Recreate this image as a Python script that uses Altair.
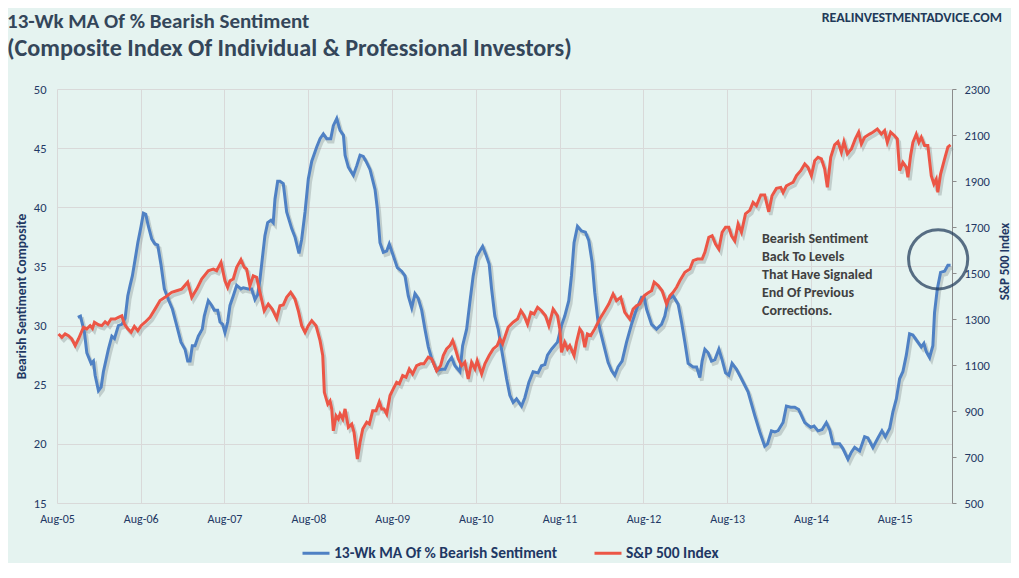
import altair as alt
import pandas as pd

# ---------------- data (decimal years) ----------------
bear_t = [2005.830, 2005.861, 2005.909, 2005.937, 2005.989, 2006.016, 2006.036, 2006.076, 2006.108, 2006.135,
          2006.195, 2006.236, 2006.267, 2006.314, 2006.355, 2006.394, 2006.426, 2006.454, 2006.481, 2006.514,
          2006.546, 2006.585, 2006.613, 2006.641, 2006.672, 2006.713, 2006.752, 2006.784, 2006.824, 2006.863,
          2006.911, 2006.959, 2007.011, 2007.062, 2007.110, 2007.142, 2007.170, 2007.197, 2007.229, 2007.269,
          2007.316, 2007.340, 2007.388, 2007.429, 2007.460, 2007.500, 2007.528, 2007.560, 2007.587, 2007.619,
          2007.647, 2007.686, 2007.727, 2007.778, 2007.806, 2007.865, 2007.906, 2007.945, 2007.977, 2008.005,
          2008.032, 2008.064, 2008.097, 2008.136, 2008.163, 2008.184, 2008.216, 2008.243, 2008.283, 2008.323,
          2008.383, 2008.422, 2008.470, 2008.502, 2008.542, 2008.581, 2008.622, 2008.681, 2008.721, 2008.760,
          2008.800, 2008.848, 2008.879, 2008.920, 2008.959, 2008.999, 2009.019, 2009.058, 2009.118, 2009.158,
          2009.198, 2009.237, 2009.269, 2009.317, 2009.377, 2009.404, 2009.436, 2009.476, 2009.516, 2009.547,
          2009.595, 2009.643, 2009.695, 2009.735, 2009.774, 2009.815, 2009.854, 2009.893, 2009.934, 2009.973,
          2010.013, 2010.053, 2010.113, 2010.173, 2010.212, 2010.251, 2010.292, 2010.331, 2010.391, 2010.423,
          2010.471, 2010.510, 2010.549, 2010.590, 2010.629, 2010.662, 2010.701, 2010.740, 2010.769, 2010.808,
          2010.848, 2010.900, 2010.948, 2010.987, 2011.027, 2011.067, 2011.127, 2011.166, 2011.214, 2011.265,
          2011.325, 2011.365, 2011.405, 2011.437, 2011.485, 2011.556, 2011.604, 2011.643, 2011.691, 2011.723,
          2011.754, 2011.795, 2011.843, 2011.890, 2011.930, 2011.969, 2012.001, 2012.041, 2012.100, 2012.160,
          2012.201, 2012.240, 2012.279, 2012.327, 2012.380, 2012.439, 2012.499, 2012.559, 2012.590, 2012.618,
          2012.678, 2012.737, 2012.797, 2012.836, 2012.876, 2012.935, 2012.995, 2013.035, 2013.075, 2013.114,
          2013.174, 2013.215, 2013.254, 2013.281, 2013.314, 2013.353, 2013.393, 2013.433, 2013.481, 2013.520,
          2013.561, 2013.600, 2013.639, 2013.692, 2013.751, 2013.830, 2013.910, 2013.970, 2014.029, 2014.062,
          2014.109, 2014.149, 2014.188, 2014.248, 2014.288, 2014.339, 2014.387, 2014.435, 2014.507, 2014.578,
          2014.618, 2014.665, 2014.713, 2014.765, 2014.805, 2014.844, 2014.924, 2014.963, 2015.023, 2015.064,
          2015.103, 2015.163, 2015.222, 2015.262, 2015.321, 2015.381, 2015.429, 2015.469, 2015.521, 2015.560,
          2015.601, 2015.640, 2015.679, 2015.720, 2015.759, 2015.799, 2015.839, 2015.899, 2015.930, 2015.958,
          2015.998, 2016.037, 2016.057, 2016.090, 2016.129, 2016.177, 2016.216, 2016.248]
bear_v = [30.7, 30.8, 29.4, 27.7, 26.8, 27.0, 25.8, 24.5, 24.8, 26.1,
          28.0, 29.1, 28.9, 30.0, 30.1, 30.6, 32.5, 33.4, 34.2, 35.6,
          37.0, 38.4, 39.5, 39.4, 38.4, 37.3, 36.9, 36.8, 35.1, 33.1,
          32.2, 31.4, 30.0, 28.6, 28.0, 27.0, 27.0, 28.3, 28.3, 29.1,
          29.7, 30.8, 32.1, 31.7, 31.3, 31.3, 30.3, 30.1, 29.4, 30.3,
          31.7, 32.5, 33.4, 33.1, 33.2, 33.1, 33.1, 32.2, 32.6, 33.9,
          35.6, 37.6, 38.7, 38.9, 38.7, 40.7, 42.2, 42.2, 42.0, 39.6,
          38.2, 37.5, 36.1, 37.3, 39.6, 42.4, 43.9, 45.1, 45.8, 46.2,
          45.8, 45.8, 46.9, 47.5, 46.5, 46.1, 44.4, 43.4, 42.7, 43.5,
          44.4, 44.3, 43.9, 43.2, 41.5, 39.9, 37.0, 36.2, 36.3, 36.9,
          35.9, 34.9, 34.6, 34.2, 32.5, 31.5, 32.7, 32.3, 31.3, 29.7,
          28.2, 27.2, 26.2, 26.3, 26.3, 26.9, 27.3, 26.6, 26.1, 28.3,
          29.7, 32.0, 34.2, 35.8, 36.3, 36.7, 36.0, 35.2, 33.1, 30.8,
          29.7, 27.5, 25.5, 24.1, 23.5, 23.8, 23.2, 23.9, 25.2, 26.1,
          26.0, 26.6, 26.7, 27.5, 28.0, 28.6, 30.0, 30.8, 32.1, 34.2,
          37.0, 38.4, 38.0, 37.9, 37.2, 35.4, 32.8, 30.3, 28.6, 26.9,
          26.2, 25.8, 26.5, 27.0, 28.6, 30.1, 31.4, 32.4, 32.4, 31.4,
          30.1, 29.7, 30.1, 30.8, 32.2, 32.5, 31.8, 30.3, 28.6, 26.8,
          26.5, 26.5, 25.6, 27.0, 28.0, 27.7, 27.0, 27.1, 28.0, 27.1,
          26.0, 25.8, 26.8, 26.3, 25.5, 24.4, 22.4, 21.0, 19.8, 20.0,
          21.1, 21.0, 21.1, 21.8, 23.2, 23.1, 23.1, 22.9, 21.8, 21.4,
          21.5, 21.1, 21.2, 21.8, 21.2, 20.0, 20.0, 19.6, 18.7, 19.3,
          19.7, 19.4, 20.6, 20.5, 19.7, 20.5, 21.1, 20.6, 21.3, 22.7,
          23.8, 25.5, 26.1, 27.5, 29.3, 29.2, 28.8, 28.2, 28.5, 27.8,
          27.3, 28.3, 31.1, 33.1, 34.5, 34.6, 35.1, 35.1]

spx_t = [2005.599, 2005.639, 2005.678, 2005.718, 2005.758, 2005.798, 2005.837, 2005.897, 2005.937, 2005.977,
         2006.004, 2006.028, 2006.076, 2006.116, 2006.156, 2006.188, 2006.227, 2006.275, 2006.314, 2006.355,
         2006.386, 2006.426, 2006.466, 2006.505, 2006.546, 2006.585, 2006.633, 2006.692, 2006.752, 2006.812,
         2006.871, 2006.951, 2007.011, 2007.071, 2007.142, 2007.190, 2007.250, 2007.309, 2007.388, 2007.448,
         2007.488, 2007.540, 2007.587, 2007.619, 2007.647, 2007.686, 2007.727, 2007.778, 2007.817, 2007.846,
         2007.885, 2007.925, 2007.965, 2008.005, 2008.056, 2008.104, 2008.151, 2008.204, 2008.243, 2008.283,
         2008.323, 2008.371, 2008.422, 2008.462, 2008.502, 2008.542, 2008.581, 2008.622, 2008.673, 2008.721,
         2008.753, 2008.772, 2008.813, 2008.840, 2008.860, 2008.879, 2008.912, 2008.939, 2008.959, 2008.991,
         2009.019, 2009.058, 2009.099, 2009.126, 2009.166, 2009.198, 2009.230, 2009.278, 2009.309, 2009.349,
         2009.389, 2009.428, 2009.457, 2009.484, 2009.516, 2009.556, 2009.595, 2009.635, 2009.667, 2009.707,
         2009.747, 2009.786, 2009.826, 2009.874, 2009.922, 2009.961, 2010.013, 2010.053, 2010.113, 2010.160,
         2010.192, 2010.232, 2010.272, 2010.304, 2010.331, 2010.371, 2010.411, 2010.450, 2010.490, 2010.530,
         2010.570, 2010.597, 2010.650, 2010.689, 2010.740, 2010.788, 2010.836, 2010.868, 2010.900, 2010.967,
         2011.027, 2011.079, 2011.119, 2011.158, 2011.198, 2011.238, 2011.277, 2011.318, 2011.365, 2011.413,
         2011.453, 2011.504, 2011.556, 2011.584, 2011.604, 2011.643, 2011.676, 2011.703, 2011.754, 2011.783,
         2011.822, 2011.850, 2011.882, 2011.914, 2011.954, 2012.001, 2012.061, 2012.121, 2012.168, 2012.220,
         2012.260, 2012.311, 2012.359, 2012.419, 2012.458, 2012.499, 2012.538, 2012.590, 2012.630, 2012.678,
         2012.709, 2012.757, 2012.804, 2012.857, 2012.896, 2012.935, 2012.976, 2013.015, 2013.075, 2013.135,
         2013.174, 2013.226, 2013.281, 2013.314, 2013.361, 2013.401, 2013.441, 2013.481, 2013.520, 2013.561,
         2013.600, 2013.632, 2013.671, 2013.711, 2013.751, 2013.799, 2013.850, 2013.890, 2013.930, 2013.982,
         2014.029, 2014.077, 2014.116, 2014.169, 2014.220, 2014.248, 2014.288, 2014.328, 2014.367, 2014.408,
         2014.459, 2014.507, 2014.546, 2014.586, 2014.626, 2014.665, 2014.706, 2014.745, 2014.777, 2014.817,
         2014.864, 2014.904, 2014.944, 2014.975, 2015.016, 2015.064, 2015.111, 2015.151, 2015.183, 2015.222,
         2015.282, 2015.321, 2015.374, 2015.422, 2015.461, 2015.493, 2015.533, 2015.580, 2015.612, 2015.640,
         2015.679, 2015.720, 2015.739, 2015.771, 2015.799, 2015.839, 2015.870, 2015.899, 2015.938, 2015.977,
         2016.018, 2016.049, 2016.077, 2016.096, 2016.129, 2016.177, 2016.216, 2016.248]
spx_v = [1235, 1220, 1235, 1227, 1213, 1184, 1213, 1264, 1257, 1271,
         1259, 1286, 1275, 1271, 1288, 1278, 1300, 1300, 1307, 1314,
         1278, 1257, 1242, 1268, 1249, 1271, 1286, 1307, 1343, 1380,
         1394, 1416, 1423, 1430, 1460, 1394, 1430, 1474, 1510, 1517,
         1510, 1546, 1466, 1438, 1466, 1474, 1525, 1558, 1525, 1517,
         1445, 1488, 1481, 1416, 1336, 1365, 1343, 1303, 1358, 1361,
         1394, 1416, 1387, 1336, 1271, 1242, 1271, 1293, 1271, 1206,
         1141, 981, 930, 944, 909, 814, 879, 865, 887, 865,
         909, 829, 843, 807, 691, 764, 822, 851, 843, 901,
         901, 940, 909, 909, 887, 967, 996, 1025, 1018, 1054,
         1047, 1083, 1061, 1097, 1105, 1105, 1134, 1127, 1075, 1097,
         1141, 1170, 1184, 1206, 1177, 1127, 1097, 1112, 1039, 1112,
         1083, 1119, 1061, 1105, 1141, 1170, 1184, 1213, 1192, 1264,
         1286, 1300, 1336, 1314, 1278, 1329, 1322, 1351, 1336, 1314,
         1271, 1343, 1314, 1257, 1155, 1199, 1170, 1184, 1141, 1199,
         1257, 1242, 1177, 1235, 1228, 1257, 1300, 1336, 1365, 1409,
         1380, 1394, 1329, 1300, 1343, 1358, 1365, 1401, 1412, 1423,
         1460, 1445, 1423, 1365, 1401, 1416, 1438, 1466, 1503, 1517,
         1554, 1561, 1561, 1590, 1655, 1662, 1626, 1604, 1677, 1699,
         1699, 1662, 1640, 1713, 1677, 1757, 1772, 1807, 1793, 1839,
         1839, 1766, 1836, 1868, 1872, 1850, 1879, 1887, 1894, 1923,
         1945, 1974, 1959, 1923, 1988, 2003, 1996, 1952, 1873, 2003,
         2057, 2071, 2025, 2071, 2018, 2039, 2083, 2112, 2061, 2090,
         2104, 2112, 2126, 2104, 2119, 2068, 2112, 2097, 2083, 1945,
         1981, 1959, 1916, 2010, 2068, 2104, 2068, 2090, 2054, 2054,
         1923, 1887, 1908, 1851, 1930, 1996, 2047, 2057]

series_names = ["13-Wk MA Of % Bearish Sentiment", "S&P 500 Index"]
title_lines = ["13-Wk MA Of % Bearish Sentiment",
               "(Composite Index Of Individual & Professional Investors)"]
source_text = "REALINVESTMENTADVICE.COM"
note_lines = ["Bearish Sentiment", "Back To Levels", "That Have Signaled",
              "End Of Previous", "Corrections."]
note_t, note_v = 2013.996, 37.95         # where the note starts
circle_t, circle_v = 2016.100, 35.6      # centre of the highlight circle
x_start, x_end = "2005-08-01", "2016-04-07"
left_ticks = [15, 20, 25, 30, 35, 40, 45, 50]
right_ticks = [500, 700, 900, 1100, 1300, 1500, 1700, 1900, 2100, 2300]
x_tick_years = list(range(2005, 2016))


def to_dt(t):
    y = int(t)
    start = pd.Timestamp(y, 1, 1)
    days = (pd.Timestamp(y + 1, 1, 1) - start).days
    return start + pd.Timedelta(days=(t - y) * days)


bear = pd.DataFrame({"date": [to_dt(t) for t in bear_t], "value": bear_v, "series": series_names[0]})
spx = pd.DataFrame({"date": [to_dt(t) for t in spx_t], "value": spx_v, "series": series_names[1]})
note = pd.DataFrame({"date": [to_dt(note_t)], "value": [note_v], "txt": [note_lines]})
circ = pd.DataFrame({"date": [to_dt(circle_t)], "value": [circle_v]})
one = pd.DataFrame({"a": [0]})

FONT = "Calibri, Carlito, Lato, sans-serif"
NAVY = "#1F3864"
BLUE = "#4F81C4"
RED = "#EC5646"
GRID = "#D9D9D9"

W, H = 895, 414

x_enc = alt.X("date:T", scale=alt.Scale(domain=[x_start, x_end]),
              axis=alt.Axis(values=[alt.DateTime(year=y, month=8, date=1) for y in x_tick_years],
                            format="%b-%y", title=None, grid=True, gridColor=GRID,
                            domain=False, ticks=False, labelPadding=10, labelFontSize=12,
                            labelFont=FONT, labelColor=NAVY, labelFlush=False))

left_scale = alt.Scale(domain=[15, 50], nice=False, zero=False)
right_scale = alt.Scale(domain=[500, 2300], nice=False, zero=False)

color_enc = alt.Color("series:N",
                      scale=alt.Scale(domain=series_names, range=[BLUE, RED]),
                      legend=alt.Legend(orient="none", legendX=244, legendY=449, direction="horizontal",
                                        title=None, symbolType="stroke", symbolSize=729,
                                        symbolStrokeWidth=3, labelFont=FONT, labelFontSize=15.5,
                                        labelFontWeight="bold", labelColor=NAVY, columnPadding=30,
                                        labelOffset=3, labelLimit=400))

bear_shadow = alt.Chart(bear).mark_line(color="#7f8a8a", strokeWidth=3.5, opacity=0.35,
                                        xOffset=2, yOffset=3).encode(
    x=x_enc, y=alt.Y("value:Q", scale=left_scale, axis=None))

bear_line = alt.Chart(bear).mark_line(strokeWidth=3).encode(
    x=x_enc,
    y=alt.Y("value:Q", scale=left_scale,
            axis=alt.Axis(values=left_ticks, title="Bearish Sentiment Composite", grid=True,
                          gridColor=GRID, domain=False, ticks=False, labelPadding=11,
                          labelFontSize=12.5, labelFont=FONT, labelColor=NAVY,
                          titleFont=FONT, titleFontSize=13.5, titleFontWeight="bold",
                          titleColor=NAVY, titleX=-36, titleY=H / 2, titleBaseline="middle",
                          titleAngle=270)),
    color=color_enc)

spx_shadow = alt.Chart(spx).mark_line(color="#7f8a8a", strokeWidth=3.5, opacity=0.35,
                                      xOffset=2, yOffset=3).encode(
    x=x_enc, y=alt.Y("value:Q", scale=right_scale, axis=None))

spx_line = alt.Chart(spx).mark_line(strokeWidth=3).encode(
    x=x_enc,
    y=alt.Y("value:Q", scale=right_scale,
            axis=alt.Axis(orient="right", values=right_ticks, format="d", title="S&P 500 Index",
                          grid=False, domain=True, domainColor="#8C8C8C", tickColor="#8C8C8C",
                          ticks=True, tickSize=4, labelPadding=8, labelFontSize=12.5,
                          labelFont=FONT, labelColor=NAVY, titleFont=FONT, titleFontSize=13,
                          titleFontWeight="bold", titleColor=NAVY, titleX=52, titleY=172,
                          titleBaseline="middle", titleAngle=270)),
    color=color_enc)

circle = alt.Chart(circ).mark_point(shape="circle", size=3500, filled=False, color="#1B3556",
                                    strokeWidth=3).encode(
    x=x_enc, y=alt.Y("value:Q", scale=left_scale, axis=None))

note_text = alt.Chart(note).mark_text(align="left", baseline="top", font=FONT, fontSize=14,
                                      fontWeight="bold", color="#404040", lineHeight=18).encode(
    x=x_enc, y=alt.Y("value:Q", scale=left_scale, axis=None), text="txt")

title1 = alt.Chart(one).mark_text(align="left", baseline="middle", font=FONT, fontSize=21,
                                  fontWeight="bold", color="#34465A").encode(
    x=alt.value(-50), y=alt.value(-67), text=alt.value(title_lines[0]))
title2 = alt.Chart(one).mark_text(align="left", baseline="middle", font=FONT, fontSize=24.2,
                                  fontWeight="bold", color="#34465A").encode(
    x=alt.value(-50), y=alt.value(-40), text=alt.value(title_lines[1]))
source = alt.Chart(one).mark_text(align="right", baseline="middle", font=FONT, fontSize=14,
                                  fontWeight="bold", color="#1F3A5A").encode(
    x=alt.value(945), y=alt.value(-71), text=alt.value(source_text))

chart = alt.layer(
    bear_shadow, spx_shadow, bear_line, spx_line, circle, note_text, title1, title2, source
).resolve_scale(y="independent").properties(
    width=W, height=H,
    autosize=alt.AutoSizeParams(type="none"),
    padding={"left": 49, "top": 81, "right": 59, "bottom": 60},
    background="#E5F3F0",
).configure_view(strokeWidth=0)

chart.save("out.html", embed_options={"renderer": "svg", "actions": False})
